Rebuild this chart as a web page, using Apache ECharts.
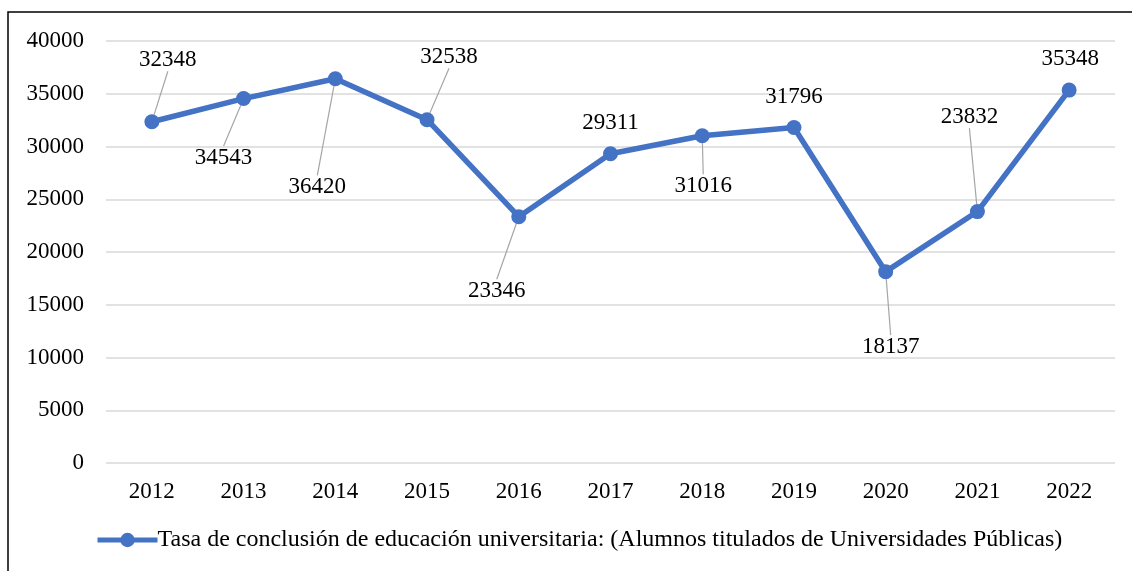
<!DOCTYPE html>
<html>
<head>
<meta charset="utf-8">
<script src="https://cdn.jsdelivr.net/npm/echarts@6/dist/echarts.min.js"></script>
<style>
  html, body { margin: 0; padding: 0; background: #fff; }
  #main { width: 1132px; height: 571px; }
</style>
</head>
<body>
<div id="main"></div>
<script>
const years = ['2012', '2013', '2014', '2015', '2016', '2017', '2018', '2019', '2020', '2021', '2022']
const titulados = [32348, 34543, 36420, 32538, 23346, 29311, 31016, 31796, 18137, 23832, 35348]
const seriesName = 'Tasa de conclusión de educación universitaria: (Alumnos titulados de Universidades Públicas)'

// where each label sits relative to its point (px), and whether it gets a leader line
const labelOffset = [[16, -62], [-20, 59], [-18, 108], [22, -63], [-22, 74], [0, -31], [1, 50], [0, -31], [5, 75], [-8, -95], [1, -31]]
const withLine = [true, true, true, true, true, false, true, false, true, true, false]

const chart = echarts.init(document.getElementById('main'))

const option = {
  backgroundColor: '#fff',
  textStyle: { fontFamily: 'Liberation Serif' },
  graphic: [{
    type: 'rect',
    shape: { x: 8, y: 12, width: 1300, height: 700 },
    style: { fill: 'none', stroke: '#000', lineWidth: 1.5 },
    silent: true
  }],
  grid: { left: 106, right: 17, top: 41, bottom: 108 },
  legend: {
    bottom: 14,
    left: 90,
    itemWidth: 60,
    itemHeight: 18,
    itemGap: 0,
    lineStyle: { width: 5 },
    textStyle: { fontFamily: 'Liberation Serif', fontSize: 24, color: '#000', padding: [0, 0, 0, -5] },
    data: [seriesName]
  },
  xAxis: {
    type: 'category',
    data: years,
    boundaryGap: true,
    axisLine: { show: false },
    axisTick: { show: false },
    axisLabel: { fontFamily: 'Liberation Serif', fontSize: 23, color: '#000', margin: 17 }
  },
  yAxis: {
    type: 'value',
    min: 0,
    max: 40000,
    interval: 5000,
    axisLine: { show: false },
    axisTick: { show: false },
    splitLine: { lineStyle: { color: '#D9D9D9', width: 1.5 } },
    axisLabel: {
      fontFamily: 'Liberation Serif', fontSize: 23, color: '#000', margin: 22,
      formatter: function (value) { return String(value) }
    }
  },
  series: [{
    name: seriesName,
    type: 'line',
    data: titulados.map((v, i) => ({
      value: v,
      labelLine: { show: withLine[i] }
    })),
    symbol: 'circle',
    symbolSize: 15,
    lineStyle: { color: '#4472C4', width: 5.5 },
    itemStyle: { color: '#4472C4' },
    label: {
      show: true,
      fontFamily: 'Liberation Serif',
      fontSize: 23,
      color: '#000',
      padding: [6, 4, 6, 4]
    },
    labelLine: {
      show: true,
      lineStyle: { color: '#A6A6A6', width: 1.2 }
    },
    labelLayout: function (params) {
      const r = params.rect
      const off = labelOffset[params.dataIndex]
      return {
        x: r.x + r.width / 2 + off[0],
        y: r.y + r.height / 2 + off[1],
        align: 'center',
        verticalAlign: 'middle'
      }
    }
  }]
}

chart.setOption(option)
</script>
</body>
</html>
